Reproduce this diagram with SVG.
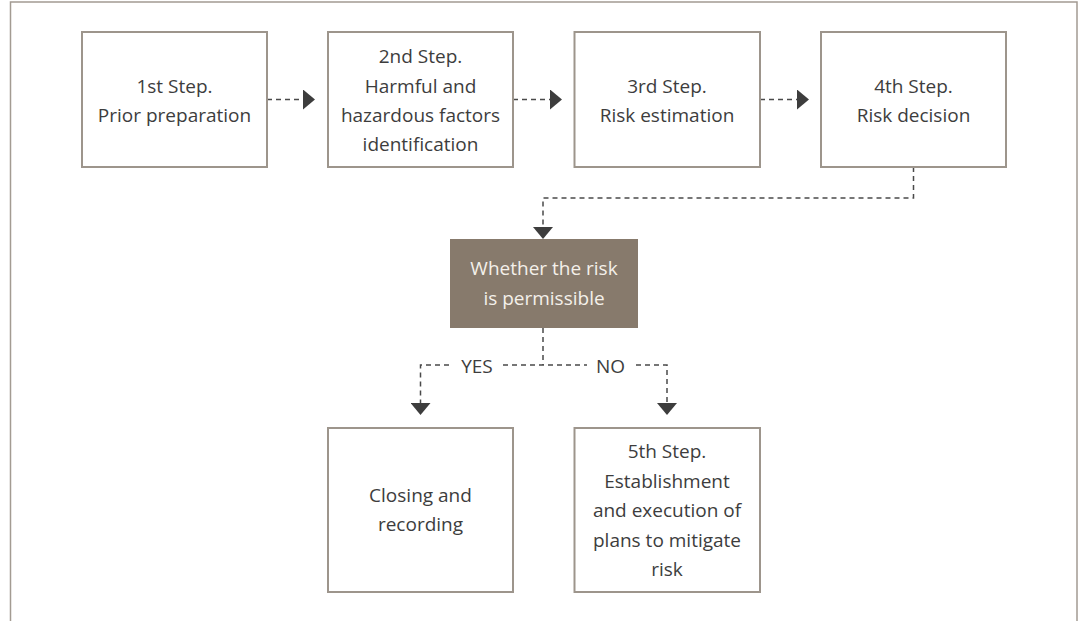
<svg xmlns="http://www.w3.org/2000/svg" width="1080" height="621" viewBox="0 0 1080 621">
  <style>
    .box { fill: #ffffff; stroke: #9d958c; stroke-width: 2; }
    .decision { fill: #877a6c; stroke: none; }
    .label { font-family: "Open Sans", "Noto Sans", "Liberation Sans", sans-serif; font-size: 19px; fill: #3d3d3d; text-anchor: middle; }
    .label.light { fill: #f4f0ea; }
    .link { fill: none; stroke: #4a4a4a; stroke-width: 1.5; stroke-dasharray: 5 4; }
    .frame { fill: none; stroke: #a39b92; stroke-width: 1.5; }
  </style>
  <defs>
    <marker id="arrow" viewBox="0 0 12 20" refX="0" refY="10" markerWidth="12" markerHeight="20" markerUnits="userSpaceOnUse" orient="auto">
      <path d="M0,0 L12,10 L0,20 Z" fill="#3d3d3d"/>
    </marker>
  </defs>

  <rect x="0" y="0" width="1080" height="621" fill="#ffffff"/>
  <!-- outer frame, open at the bottom -->
  <path class="frame" d="M10.5,621 V2 H1077 V621"/>

  <!-- connectors -->
  <g id="connectors">
    <path class="link" d="M267,99.5 H303" marker-end="url(#arrow)"/>
    <path class="link" d="M513,99.5 H550" marker-end="url(#arrow)"/>
    <path class="link" d="M760,99.5 H797" marker-end="url(#arrow)"/>
    <path class="link" d="M913.5,167 V198 H543 V227" marker-end="url(#arrow)"/>
    <path class="link" d="M543,328 V365"/>
    <path class="link" d="M449,365 H420.5 V403" marker-end="url(#arrow)"/>
    <path class="link" d="M503,365 H587"/>
    <path class="link" d="M636,365 H667 V403" marker-end="url(#arrow)"/>
    <text class="label" x="477" y="373">YES</text>
    <text class="label" x="610.5" y="373">NO</text>
  </g>

  <!-- step 1 -->
  <g id="step1">
    <rect class="box" x="82" y="32" width="185" height="135"/>
    <text class="label" x="174.5" y="93">1st Step.</text>
    <text class="label" x="174.5" y="122">Prior preparation</text>
  </g>

  <!-- step 2 -->
  <g id="step2">
    <rect class="box" x="328" y="32" width="185" height="135"/>
    <text class="label" x="420.5" y="63">2nd Step.</text>
    <text class="label" x="420.5" y="92.5">Harmful and</text>
    <text class="label" x="420.5" y="122">hazardous factors</text>
    <text class="label" x="420.5" y="150.5">identification</text>
  </g>

  <!-- step 3 -->
  <g id="step3">
    <rect class="box" x="574.5" y="32" width="185.5" height="135"/>
    <text class="label" x="667" y="93">3rd Step.</text>
    <text class="label" x="667" y="122">Risk estimation</text>
  </g>

  <!-- step 4 -->
  <g id="step4">
    <rect class="box" x="821" y="32" width="185" height="135"/>
    <text class="label" x="913.5" y="93">4th Step.</text>
    <text class="label" x="913.5" y="122">Risk decision</text>
  </g>

  <!-- decision -->
  <g id="decision">
    <rect class="decision" x="450" y="239" width="188" height="89"/>
    <text class="label light" x="544" y="275">Whether the risk</text>
    <text class="label light" x="544" y="305">is permissible</text>
  </g>

  <!-- outcome: permissible -->
  <g id="closing">
    <rect class="box" x="328" y="428" width="185" height="164"/>
    <text class="label" x="420.5" y="502">Closing and</text>
    <text class="label" x="420.5" y="531">recording</text>
  </g>

  <!-- outcome: not permissible -->
  <g id="step5">
    <rect class="box" x="574.5" y="428" width="185.5" height="164"/>
    <text class="label" x="667" y="458">5th Step.</text>
    <text class="label" x="667" y="487.5">Establishment</text>
    <text class="label" x="667" y="517">and execution of</text>
    <text class="label" x="667" y="546.5">plans to mitigate</text>
    <text class="label" x="667" y="576">risk</text>
  </g>
</svg>
